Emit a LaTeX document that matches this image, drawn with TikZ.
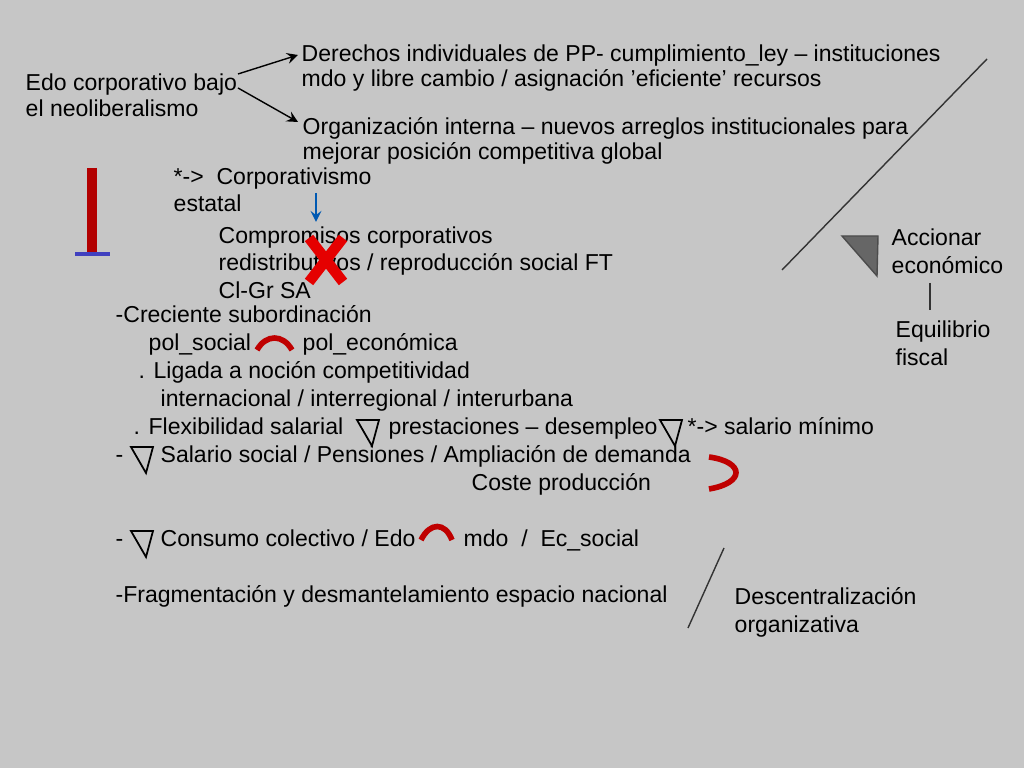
\documentclass[tikz,border=0pt]{standalone}
\usepackage{fontspec}
\setmainfont{Liberation Sans}
\usetikzlibrary{positioning}
\tikzset{
  txt/.style={anchor=base west, inner sep=0pt, font=\fontsize{6.55}{8}\selectfont},
  nabla/.style={draw=black, line width=0.5pt},
  redarc/.style={draw=red!75!black, line width=1.6pt}
}
\begin{document}
\begin{tikzpicture}[x=0.01cm, y=-0.01cm]
    \fill[gray!45!white] (0,0) rectangle (1024,768);
    \useasboundingbox (0,0) rectangle (1024,768);

    % Encabezado
    \node[txt] (edo) at (25,91) {Edo corporativo bajo};
    \node[txt] (edo2) at (25,117) {el neoliberalismo};
    \node[txt] (der) at (301,62) {Derechos individuales de PP- cumplimiento\_ley -- instituciones};
    \node[txt] (der2) at (301,87) {mdo y libre cambio / asignación \symbol{39}eficiente\symbol{39} recursos};
    \node[txt] (org) at (302,135) {Organización interna -- nuevos arreglos institucionales para};
    \node[txt] (org2) at (302,160) {mejorar posición competitiva global};
    \coordinate (e1) at (238,74);
    \coordinate (e2) at (238,88);
    \draw[->, >=stealth] (e1) -- (298,55);
    \draw[->, >=stealth] (e2) -- (298,122);

    % Corporativismo
    \node[txt] (corp) at (173,185) {*->\ \ Corporativismo};
    \node[txt] (corp2) at (173,212) {estatal};
    \node[txt] (comp) at (218,244) {Compromisos corporativos};
    \node[txt] (comp2) at (218,271) {redistributivos / reproducción social FT};
    \node[txt] (comp3) at (218,299) {Cl-Gr SA};
    \draw[->, >=stealth, blue!50!cyan!70!black] (316,193) -- (316,222);
    \draw[red!90!black, line width=3pt] (309,238) -- (343,282) (343,238) -- (309,282);
    \draw[red!70!black, line width=3pt] (92,168) -- (92,254);
    \draw[blue!50!gray, line width=1pt] (75,254) -- (110,254);

    % Lista
    \node[txt] (cre) at (115,323) {-Creciente subordinación};
    \node[txt] (pols) at (148,351) {pol\_social};
    \node[txt] (pole) at (302,351) {pol\_económica};
    \draw[redarc] (257,350) .. controls (266,334) and (283,334) .. (292,350);
    \node[txt] (lig) at (138,379) {. Ligada a noción competitividad};
    \node[txt] (lig2) at (160,407) {internacional / interregional / interurbana};
    \node[txt] (flex) at (133,435) {. Flexibilidad salarial};
    \node[txt] (pres) at (388,435) {prestaciones -- desempleo};
    \node[txt] (sal) at (687,435) {*-> salario mínimo};
    \draw[nabla] (357,420) -- (379,420) -- (372,446) -- cycle;
    \draw[nabla] (660,420) -- (682,420) -- (675,446) -- cycle;
    \node[txt] (g1) at (115,463) {-};
    \node[txt] (ss) at (160,463) {Salario social / Pensiones / Ampliación de demanda};
    \draw[nabla] (131,447) -- (153,447) -- (146,473) -- cycle;
    \node[txt] (cos) at (471,491) {Coste producción};
    \draw[redarc] (709,457) .. controls (745,462) and (745,483) .. (709,489);
    \node[txt] (g2) at (115,547) {-};
    \node[txt] (con) at (160,547) {Consumo colectivo / Edo};
    \node[txt] (mdo) at (463,547) {mdo\ \ /\ \ Ec\_social};
    \draw[nabla] (131,531) -- (153,531) -- (146,557) -- cycle;
    \draw[redarc] (421,540) .. controls (430,522) and (445,522) .. (452,540);
    \node[txt] (frag) at (115,603) {-Fragmentación y desmantelamiento espacio nacional};

    % Derecha
    \draw[black!80] (782,270) -- (987,59);
    \draw[fill=gray!80!black, draw=black!70] (842,236) -- (878,236) -- (877,276) -- cycle;
    \node[txt] (acc) at (891,246) {Accionar};
    \node[txt] (acc2) at (891,274) {económico};
    \node[txt] (equ) at (895,338) {Equilibrio};
    \node[txt] (equ2) at (895,366) {fiscal};
    \draw[black!80] (930,283) -- (930,310);
    \draw[black!80] (724,548) -- (688,628);
    \node[txt] (des) at (734,605) {Descentralización};
    \node[txt] (des2) at (734,633) {organizativa};
\end{tikzpicture}
\end{document}
